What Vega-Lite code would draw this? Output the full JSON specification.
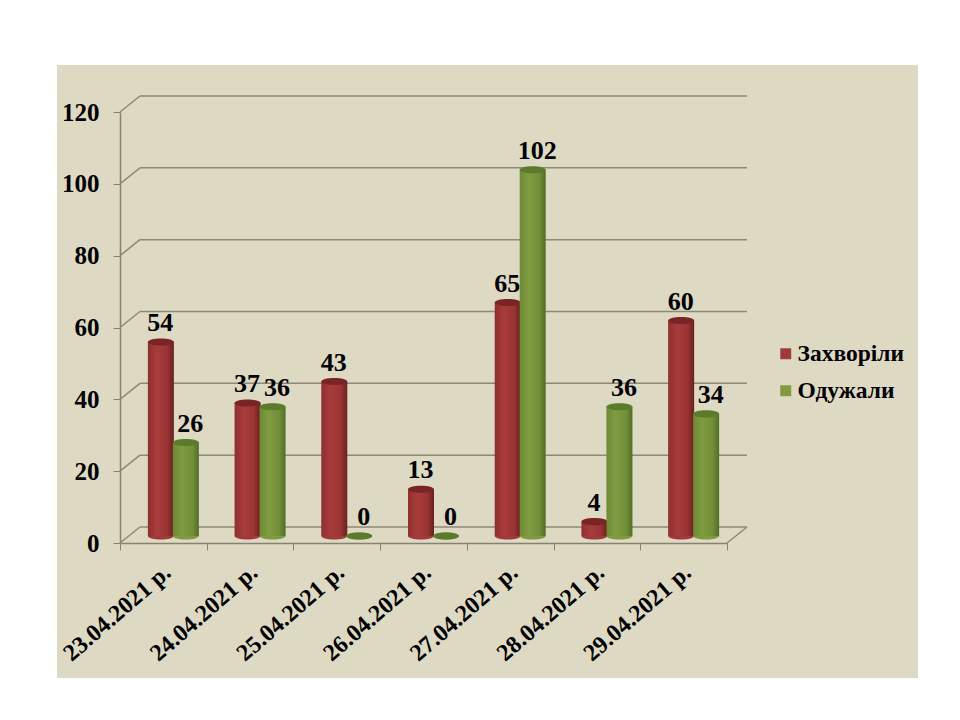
{
  "$schema": "https://vega.github.io/schema/vega-lite/v6.json",
  "width": 861,
  "height": 613,
  "padding": {"left": 57, "top": 65, "right": 42, "bottom": 42},
  "autosize": "none",
  "background": "#ffffff",
  "view": {"fill": "#ddd9c3", "stroke": null},
  "config": {"font": "Liberation Serif"},
  "datasets": {
    "cases": [
      {"date": "23.04.2021 р.", "series": "Захворіли", "value": 54},
      {"date": "23.04.2021 р.", "series": "Одужали", "value": 26},
      {"date": "24.04.2021 р.", "series": "Захворіли", "value": 37},
      {"date": "24.04.2021 р.", "series": "Одужали", "value": 36},
      {"date": "25.04.2021 р.", "series": "Захворіли", "value": 43},
      {"date": "25.04.2021 р.", "series": "Одужали", "value": 0},
      {"date": "26.04.2021 р.", "series": "Захворіли", "value": 13},
      {"date": "26.04.2021 р.", "series": "Одужали", "value": 0},
      {"date": "27.04.2021 р.", "series": "Захворіли", "value": 65},
      {"date": "27.04.2021 р.", "series": "Одужали", "value": 102},
      {"date": "28.04.2021 р.", "series": "Захворіли", "value": 4},
      {"date": "28.04.2021 р.", "series": "Одужали", "value": 36},
      {"date": "29.04.2021 р.", "series": "Захворіли", "value": 60},
      {"date": "29.04.2021 р.", "series": "Одужали", "value": 34}
    ],
    "ticks": [
      {"tick": 0}, {"tick": 20}, {"tick": 40}, {"tick": 60}, {"tick": 80}, {"tick": 100}, {"tick": 120}
    ],
    "floor": [{"tick": 0}]
  },
  "data": {"name": "cases"},
  "encoding": {
    "x": {
      "field": "date",
      "type": "nominal",
      "title": null,
      "sort": null,
      "scale": {
        "type": "band",
        "domain": ["23.04.2021 р.", "24.04.2021 р.", "25.04.2021 р.", "26.04.2021 р.", "27.04.2021 р.", "28.04.2021 р.", "29.04.2021 р."],
        "range": [63, 670],
        "paddingInner": 0,
        "paddingOuter": 0
      },
      "axis": {
        "offset": -135,
        "labelAngle": -41,
        "labelFontSize": 24,
        "labelFontWeight": "bold",
        "labelColor": "#000000",
        "labelPadding": 10,
        "labelOffset": -4,
        "labelOverlap": false,
        "tickBand": "extent",
        "tickColor": "#86826f",
        "tickSize": 7,
        "domainColor": "#86826f",
        "domainWidth": 1.5,
        "grid": false
      }
    },
    "y": {
      "field": "value",
      "type": "quantitative",
      "title": null,
      "scale": {"domain": [0, 120], "range": [478, 47], "nice": false, "zero": true},
      "axis": {
        "offset": -63,
        "values": [0, 20, 40, 60, 80, 100, 120],
        "labelFontSize": 25,
        "labelFontWeight": "bold",
        "labelColor": "#000000",
        "labelPadding": 14,
        "tickColor": "#86826f",
        "tickSize": 7,
        "domainColor": "#86826f",
        "domainWidth": 1.5,
        "grid": false
      }
    }
  },
  "layer": [
    {
      "data": {"name": "ticks"},
      "mark": {"type": "rule", "color": "#8d8977", "strokeWidth": 1.5, "xOffset": -23.36, "x2Offset": 63.36, "yOffset": -16, "y2Offset": -16},
      "encoding": {
        "x": {"datum": "23.04.2021 р."},
        "x2": {"datum": "29.04.2021 р."},
        "y": {"field": "tick", "type": "quantitative"},
        "y2": {"field": "tick"}
      }
    },
    {
      "data": {"name": "ticks"},
      "mark": {"type": "rule", "color": "#8d8977", "strokeWidth": 1.5, "xOffset": -43.36, "x2Offset": -23.36, "y2Offset": -16},
      "encoding": {
        "x": {"datum": "23.04.2021 р."},
        "x2": {"datum": "23.04.2021 р."},
        "y": {"field": "tick", "type": "quantitative"},
        "y2": {"field": "tick"}
      }
    },
    {
      "data": {"name": "floor"},
      "mark": {"type": "rule", "color": "#8d8977", "strokeWidth": 1.5, "xOffset": 43.36, "x2Offset": 63.36, "y2Offset": -16},
      "encoding": {
        "x": {"datum": "29.04.2021 р."},
        "x2": {"datum": "29.04.2021 р."},
        "y": {"field": "tick", "type": "quantitative"},
        "y2": {"field": "tick"}
      }
    },
    {
      "transform": [{"filter": "datum.series === 'Захворіли'"}],
      "layer": [
        {
          "mark": {"type": "point", "filled": true, "opacity": 1, "size": 676, "yOffset": -7, "xOffset": -2.5, "shape": "M-1,0A1,0.27 0 1 1 1,0A1,0.27 0 1 1 -1,0Z"},
          "encoding": {
            "y": {"datum": 0},
            "color": {
              "field": "series",
              "type": "nominal",
              "title": null,
              "scale": {"domain": ["Захворіли", "Одужали"], "range": ["#a0393a", "#7f9a3f"]},
              "legend": {
                "orient": "none",
                "legendX": 717,
                "legendY": 277,
                "symbolType": "square",
                "symbolSize": 120,
                "symbolOpacity": 1,
                "labelFontSize": 23.5,
                "labelFontWeight": "bold",
                "labelColor": "#000000",
                "labelOffset": 0,
                "rowPadding": 12
              }
            }
          }
        },
        {
          "mark": {
            "type": "bar", "width": 26, "xOffset": -2.5, "yOffset": -7, "y2Offset": -7,
            "fill": {"x1": 0, "x2": 1, "y1": 0, "y2": 0, "gradient": "linear", "stops": [
              {"offset": 0, "color": "#8e2f2f"},
              {"offset": 0.35, "color": "#a83c3c"},
              {"offset": 0.75, "color": "#9a3434"},
              {"offset": 1, "color": "#6a1f1f"}
            ]}
          },
          "encoding": {"y2": {"datum": 0}}
        },
        {
          "mark": {"type": "point", "filled": true, "opacity": 1, "size": 676, "color": "#7a2525", "yOffset": -7, "xOffset": -2.5, "shape": "M-1,0A1,0.27 0 1 1 1,0A1,0.27 0 1 1 -1,0Z"}
        },
        {
          "mark": {"type": "text", "fontSize": 26, "fontWeight": "bold", "color": "#000000", "yOffset": -26, "xOffset": -3},
          "encoding": {"text": {"field": "value", "type": "quantitative"}}
        }
      ]
    },
    {
      "transform": [{"filter": "datum.series === 'Одужали'"}],
      "layer": [
        {
          "mark": {"type": "point", "filled": true, "opacity": 1, "size": 676, "yOffset": -7, "xOffset": 22.5, "shape": "M-1,0A1,0.27 0 1 1 1,0A1,0.27 0 1 1 -1,0Z"},
          "encoding": {
            "y": {"datum": 0},
            "color": {"field": "series", "type": "nominal", "title": null}
          }
        },
        {
          "mark": {
            "type": "bar", "width": 26, "xOffset": 22.5, "yOffset": -7, "y2Offset": -7,
            "fill": {"x1": 0, "x2": 1, "y1": 0, "y2": 0, "gradient": "linear", "stops": [
              {"offset": 0, "color": "#6c8a35"},
              {"offset": 0.35, "color": "#809c41"},
              {"offset": 0.75, "color": "#728f38"},
              {"offset": 1, "color": "#526d28"}
            ]}
          },
          "encoding": {"y2": {"datum": 0}}
        },
        {
          "mark": {"type": "point", "filled": true, "opacity": 1, "size": 676, "color": "#5b7a2c", "yOffset": -7, "xOffset": 22.5, "shape": "M-1,0A1,0.27 0 1 1 1,0A1,0.27 0 1 1 -1,0Z"}
        },
        {
          "mark": {"type": "text", "fontSize": 26, "fontWeight": "bold", "color": "#000000", "yOffset": -26, "xOffset": 27},
          "encoding": {"text": {"field": "value", "type": "quantitative"}}
        }
      ]
    }
  ]
}
